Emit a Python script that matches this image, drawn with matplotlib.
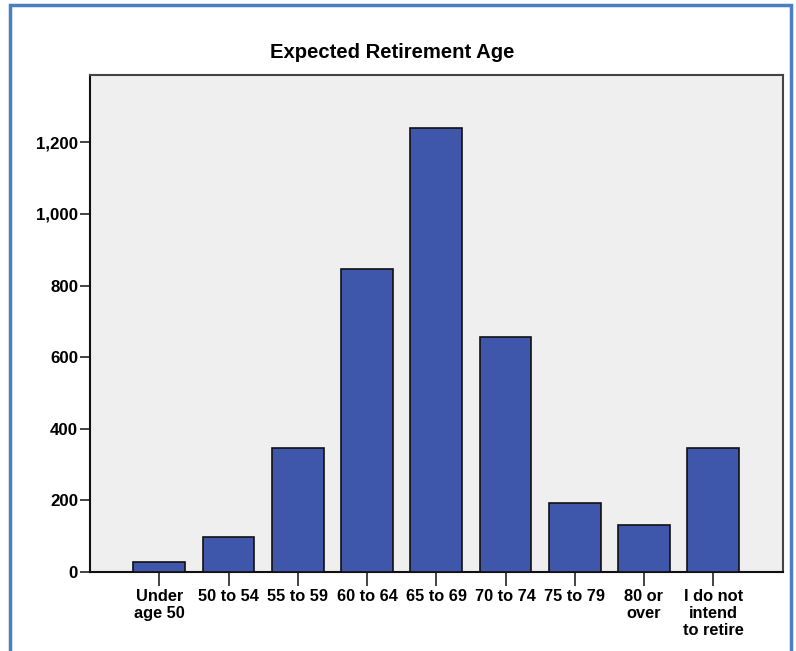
import matplotlib
matplotlib.use("Agg")
import matplotlib.pyplot as plt
from matplotlib.patches import Rectangle
from matplotlib.ticker import FuncFormatter

categories = ["Under\nage 50", "50 to 54", "55 to 59", "60 to 64", "65 to 69",
              "70 to 74", "75 to 79", "80 or\nover", "I do not\nintend\nto retire"]
counts = [27, 97, 346, 847, 1241, 655, 192, 132, 346]
y_ticks = [0, 200, 400, 600, 800, 1000, 1200]

plt.rcParams["font.family"] = ["Liberation Sans", "DejaVu Sans"]

W, H = 796, 651
fig = plt.figure(figsize=(W / 100, H / 100), dpi=100)
fig.patch.set_facecolor("white")

# outer blue frame
fig.add_artist(Rectangle((10 / W, -0.05), (791 - 10) / W, (H - 5) / H + 0.05,
                         transform=fig.transFigure, fill=False,
                         edgecolor="#4a7fc1", linewidth=2.5, clip_on=False))

left, right, top, bottom = 90, 782.5, 75, 572
ax = fig.add_axes([left / W, 1 - bottom / H, (right - left) / W, (bottom - top) / H])
ax.set_facecolor("#efefef")

x = list(range(len(categories)))
ax.bar(x, counts, width=0.75, color="#3e57aa", edgecolor="#111111", linewidth=1.2,
       zorder=3)

ax.set_xlim(-1, len(categories))
ax.set_ylim(0, 1388)
ax.set_yticks(y_ticks)
ax.yaxis.set_major_formatter(FuncFormatter(lambda v, p: f"{int(v):,}"))
ax.set_xticks(x)
ax.set_xticklabels(categories, fontweight="bold", fontsize=11.8, linespacing=1.17)
for lab in ax.get_yticklabels():
    lab.set_fontweight("bold")
    lab.set_fontsize(12.2)

ax.tick_params(axis="y", direction="out", length=7, width=1.2, color="#222222", pad=1.5)
ax.tick_params(axis="x", direction="out", length=10, width=1.2, color="#222222", pad=2)

for side in ["left", "bottom"]:
    ax.spines[side].set_color("#111111")
    ax.spines[side].set_linewidth(1.5)
for side in ["top", "right"]:
    ax.spines[side].set_color("#444444")
    ax.spines[side].set_linewidth(1.5)

fig.text(392 / W, 1 - 53 / H, "Expected Retirement Age", ha="center", va="center",
         fontsize=14.6, fontweight="bold")

fig.savefig("out.png", dpi=100)
